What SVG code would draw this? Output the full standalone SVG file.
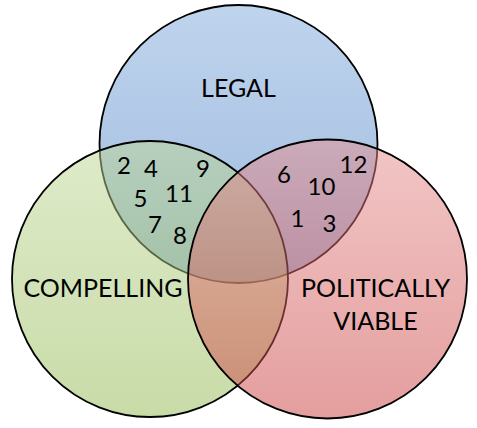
<svg xmlns="http://www.w3.org/2000/svg" width="477" height="428" viewBox="0 0 477 428">
<style>
.c{stroke:#000;stroke-width:1.8}
.lbl{font-family:Lato,"Liberation Sans",sans-serif;font-size:25px;fill:#000;text-anchor:middle}
.num{font-family:Lato,"Liberation Sans",sans-serif;font-size:24px;fill:#000;text-anchor:middle}
</style>
<defs>
<linearGradient id="gb" x1="0" y1="0" x2="0" y2="1"><stop offset="0" stop-color="#bfd4ed"/><stop offset="1" stop-color="#9fbbdf"/></linearGradient>
<linearGradient id="gg" x1="0" y1="0" x2="0" y2="1"><stop offset="0" stop-color="#bdd795"/><stop offset="1" stop-color="#93b850"/></linearGradient>
<linearGradient id="gr" x1="0" y1="0" x2="0" y2="1"><stop offset="0" stop-color="#e68d8d"/><stop offset="1" stop-color="#c93d3d"/></linearGradient>
</defs>
<rect width="477" height="428" fill="#fff"/>
<g id="legal">
<circle class="c" cx="238.5" cy="144" r="139" fill="url(#gb)"/>
<text class="lbl" x="238.5" y="97">LEGAL</text>
</g>
<g id="compelling">
<circle class="c" cx="150" cy="279" r="138" fill="url(#gg)" fill-opacity="0.5"/>
<text class="lbl" x="103" y="297">COMPELLING</text>
</g>
<g id="politically-viable">
<circle class="c" cx="327.5" cy="279" r="139.5" fill="url(#gr)" fill-opacity="0.5"/>
<text class="lbl" x="375.5" y="297">POLITICALLY</text>
<text class="lbl" x="375.5" y="330">VIABLE</text>
</g>
<g id="items">
<text class="num" x="124" y="174">2</text>
<text class="num" x="151" y="177">4</text>
<text class="num" x="203" y="177">9</text>
<text class="num" x="140.5" y="207">5</text>
<text class="num" x="179" y="202">11</text>
<text class="num" x="155" y="233">7</text>
<text class="num" x="180" y="244">8</text>
<text class="num" x="284" y="183">6</text>
<text class="num" x="321.5" y="195">10</text>
<text class="num" x="353.5" y="173">12</text>
<text class="num" x="297.5" y="227">1</text>
<text class="num" x="329.5" y="232">3</text>
</g>
</svg>
